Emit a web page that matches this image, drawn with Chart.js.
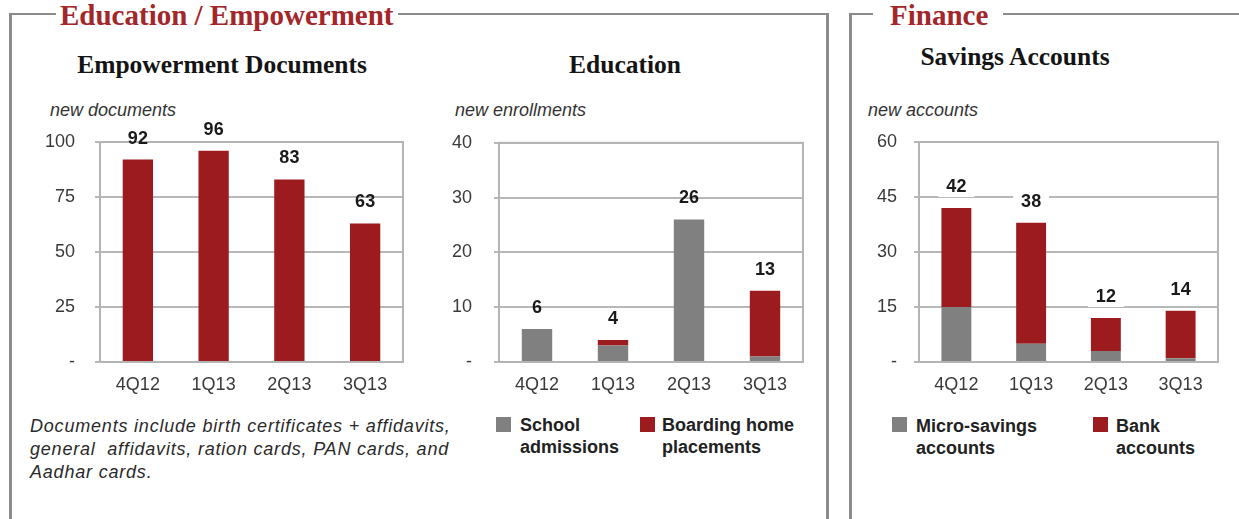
<!DOCTYPE html>
<html>
<head>
<meta charset="utf-8">
<script src="https://cdn.jsdelivr.net/npm/chart.js@4.4.0/dist/chart.umd.min.js"></script>
<style>
  body { margin: 0; background: #fff; width: 1239px; height: 519px; position: relative; overflow: hidden; font-family: "Liberation Sans", Arial, sans-serif; }
  .frame { position: absolute; border: 3px solid #8c8c8c; border-top-width: 2px; border-bottom: none; }
  .sect { position: absolute; background: #fff; color: #a3262a; font: bold 29px "Liberation Serif", serif; line-height: 30px; white-space: nowrap; }
  .title { position: absolute; font: bold 25.5px "Liberation Serif", serif; color: #141414; line-height: 28px; white-space: nowrap; transform: translateX(-50%); }
  .unit { position: absolute; font: italic 18px "Liberation Sans", Arial, sans-serif; color: #333; line-height: 20px; white-space: nowrap; }
  .note { position: absolute; font: italic 18px "Liberation Sans", Arial, sans-serif; color: #2a2a2a; line-height: 23px; letter-spacing: 0.8px; white-space: nowrap; }
  .sw { position: absolute; width: 15px; height: 15px; }
  .lg { position: absolute; font: bold 18px "Liberation Sans", Arial, sans-serif; color: #222; line-height: 22px; white-space: nowrap; }
  canvas { position: absolute; }
</style>
</head>
<body>
<div class="frame" style="left:9px;top:13px;width:814px;height:520px;"></div>
<div class="sect" style="left:56px;top:0px;padding:0 4px;">Education / Empowerment</div>
<div class="frame" style="left:849px;top:13px;width:420px;height:520px;"></div>
<div class="sect" style="left:873px;top:0px;padding:0 15px 0 17px;">Finance</div>

<div class="title" style="left:222px;top:51px;">Empowerment Documents</div>
<div class="title" style="left:625px;top:51px;">Education</div>
<div class="title" style="left:1015px;top:43px;">Savings Accounts</div>

<div class="unit" style="left:50px;top:100px;">new documents</div>
<div class="unit" style="left:455px;top:100px;">new enrollments</div>
<div class="unit" style="left:868px;top:100px;">new accounts</div>

<canvas id="docsChart" width="385" height="300" style="left:30px;top:110px;"></canvas>
<canvas id="eduChart" width="385" height="300" style="left:429px;top:110px;"></canvas>
<canvas id="savChart" width="381" height="300" style="left:849px;top:110px;"></canvas>

<div class="note" style="left:30px;top:415px;">Documents include birth certificates + affidavits,<br>general&nbsp; affidavits, ration cards, PAN cards, and<br>Aadhar cards.</div>

<div class="sw" style="left:496px;top:417px;background:#808080;"></div>
<div class="lg" style="left:520px;top:414px;">School<br>admissions</div>
<div class="sw" style="left:640px;top:417px;background:#9b1b1f;"></div>
<div class="lg" style="left:662px;top:414px;">Boarding home<br>placements</div>

<div class="sw" style="left:892px;top:417px;background:#808080;"></div>
<div class="lg" style="left:916px;top:415px;">Micro-savings<br>accounts</div>
<div class="sw" style="left:1093px;top:417px;background:#9b1b1f;"></div>
<div class="lg" style="left:1116px;top:415px;">Bank<br>accounts</div>

<script>
// ---- data ----
const quarters = ['4Q12', '1Q13', '2Q13', '3Q13'];

const docsValues = [92, 96, 83, 63];
const docsTicks = [0, 25, 50, 75, 100];

const schoolAdmissions = [6, 3, 26, 1];
const boardingPlacements = [0, 1, 0, 12];
const eduTicks = [0, 10, 20, 30, 40];

const microSavings = [15, 5, 3, 1];
const bankAccounts = [27, 33, 9, 13];
const savTicks = [0, 15, 30, 45, 60];

const RED = '#9b1b1f';
const GRAY = '#808080';

// ---- plugins ----
// box around the plot area
const plotBox = {
    id: 'plotBox',
    beforeDatasetsDraw(chart) {
        const { ctx, chartArea: a } = chart;
        ctx.save();
        ctx.strokeStyle = '#b4b4b4';
        ctx.lineWidth = 2;
        ctx.strokeRect(a.left, a.top, a.right - a.left, a.bottom - a.top);
        ctx.restore();
    }
};

// stack totals above each bar
const totals = {
    id: 'totals',
    afterDatasetsDraw(chart, args, opts) {
        const { ctx } = chart;
        const x = chart.scales.x, y = chart.scales.y;
        ctx.save();
        ctx.font = 'bold 18px "Liberation Sans", Arial, sans-serif';
        ctx.textAlign = 'center';
        ctx.textBaseline = 'middle';
        chart.data.labels.forEach((lbl, i) => {
            const total = chart.data.datasets.reduce((s, d) => s + d.data[i], 0);
            const px = x.getPixelForValue(i);
            const py = y.getPixelForValue(total) - 21;
            if (opts.boxed) {
                ctx.fillStyle = '#fff';
                ctx.fillRect(px - 18, py - 10, 36, 20);
            }
            ctx.fillStyle = '#1a1a1a';
            ctx.fillText(String(total), px, py);
        });
        ctx.restore();
    }
};

function makeChart(id, datasets, ticks, labelPad, topPad, rightPad, boxed) {
    const ctx = document.getElementById(id).getContext('2d');
    return new Chart(ctx, {
        type: 'bar',
        data: { labels: quarters, datasets: datasets },
        plugins: [plotBox, totals],
        options: {
            responsive: false,
            animation: false,
            layout: { padding: { top: topPad, right: rightPad, left: 0, bottom: 0 } },
            datasets: { bar: { barPercentage: 0.4, categoryPercentage: 1 } },
            plugins: { legend: { display: false }, tooltip: { enabled: false }, totals: { boxed: boxed } },
            scales: {
                x: {
                    stacked: true,
                    grid: { display: false },
                    border: { display: false },
                    ticks: { color: '#3a3a3a', padding: 4, font: { family: '"Liberation Sans", Arial, sans-serif', size: 18 } },
                    afterFit: s => { s.height = 48; }
                },
                y: {
                    stacked: true,
                    min: ticks[0],
                    max: ticks[ticks.length - 1],
                    grid: { color: '#b8b8b8', lineWidth: 2, tickLength: 5, drawTicks: true },
                    border: { display: false },
                    ticks: {
                        stepSize: ticks[1] - ticks[0],
                        color: '#3a3a3a',
                        padding: labelPad,
                        font: { family: '"Liberation Sans", Arial, sans-serif', size: 18 },
                        callback: v => (v === 0 ? '-' : v)
                    },
                    afterFit: s => { s.width = 70; }
                }
            }
        }
    });
}

makeChart('docsChart', [
    { label: 'Documents', data: docsValues, backgroundColor: RED }
], docsTicks, 20, 32, 12, false);

makeChart('eduChart', [
    { label: 'School admissions', data: schoolAdmissions, backgroundColor: GRAY },
    { label: 'Boarding home placements', data: boardingPlacements, backgroundColor: RED }
], eduTicks, 22, 32, 11, false);

makeChart('savChart', [
    { label: 'Micro-savings accounts', data: microSavings, backgroundColor: GRAY },
    { label: 'Bank accounts', data: bankAccounts, backgroundColor: RED }
], savTicks, 17, 32, 12, true);
</script>
</body>
</html>
